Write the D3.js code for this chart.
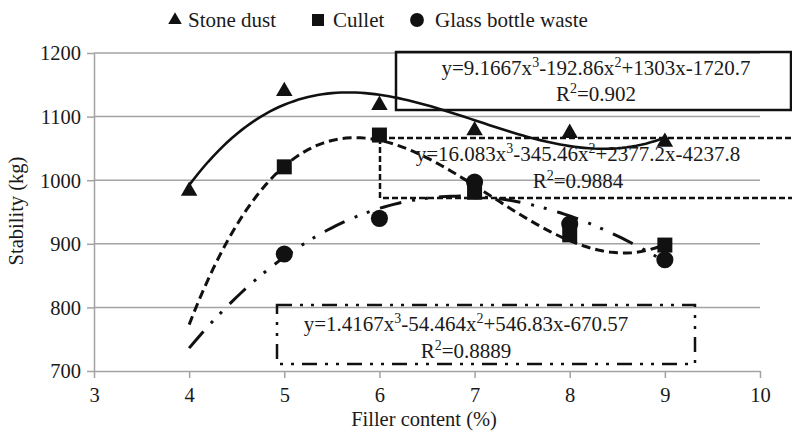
<html>
<script src="https://d3js.org/d3.v7.min.js"></script>
<style>
body {margin:0; background:#fff;}
text {font-family: "Liberation Serif", "Times New Roman", serif; fill:#1a1a1a;}
</style>
<body>
<svg width=792 height=431></svg>
<script>
// values
const fillerContent = [4, 5, 6, 7, 8, 9];
const stoneDust = [983, 1140, 1118, 1078, 1074, 1060];
const culletX = [5, 6, 7, 8, 9];
const cullet = [1021, 1071, 981, 914, 898];
const glassX = [5, 6, 7, 8, 9];
const glassBottle = [884, 940, 997, 931, 875];
const xTicks = [3, 4, 5, 6, 7, 8, 9, 10];
const yTicks = [700, 800, 900, 1000, 1100, 1200];
const seriesNames = ["Stone dust", "Cullet", "Glass bottle waste"];
// printed trendline coefficients (x^3, x^2, x, const) and R^2
const stoneFit = [9.1667, -192.86, 1303, -1720.7];
const culletFit = [16.083, -345.46, 2377.2, -4237.8];
const glassFit = [1.4167, -54.464, 546.83, -670.57];
const rSquared = [0.902, 0.9884, 0.8889];
const fitRange = [4, 9];

const svg = d3.select('svg');
const xs = d3.scaleLinear().domain([3, 10]).range([94, 760]);
const ys = d3.scaleLinear().domain([700, 1200]).range([371, 53]);
const grey = '#a3a3a3';

// gridlines
svg.append('g').selectAll('line').data(yTicks.slice(1)).enter().append('line')
    .attr('x1', xs(3)).attr('x2', xs(10))
    .attr('y1', d => ys(d)).attr('y2', d => ys(d))
    .attr('stroke', grey).attr('stroke-width', 1.5);

// axes
const xAxis = svg.append('g').attr('transform', 'translate(0,' + ys(700) + ')')
    .call(d3.axisBottom(xs).tickValues(xTicks).tickFormat(d3.format('d')).tickSizeOuter(0).tickSizeInner(7).tickPadding(6));
const yAxis = svg.append('g').attr('transform', 'translate(' + xs(3) + ',0)')
    .call(d3.axisLeft(ys).tickValues(yTicks).tickFormat(d3.format('d')).tickSizeOuter(0).tickSizeInner(7).tickPadding(6));
[xAxis, yAxis].forEach(a => {
    a.select('.domain').attr('stroke', grey).attr('stroke-width', 1.5);
    a.selectAll('.tick line').attr('stroke', grey).attr('stroke-width', 1.5);
    a.selectAll('.tick text').style('font-size', '20.5px').attr('fill', '#1a1a1a')
        .style('font-family', '"Liberation Serif", serif');
});
xAxis.selectAll('.tick text').attr('dy', '0.9em');
yAxis.selectAll('.tick text').attr('dy', '0.34em');

// axis titles
svg.append('text').attr('x', 424).attr('y', 426).attr('text-anchor', 'middle')
    .style('font-size', '20.5px').text('Filler content (%)');
svg.append('text').attr('transform', 'translate(23,211) rotate(-90)').attr('text-anchor', 'middle')
    .style('font-size', '20.5px').text('Stability (kg)');

// trendline curves
function poly(c) { return x => c[0]*x*x*x + c[1]*x*x + c[2]*x + c[3]; }
const sampleX = d3.range(fitRange[0], fitRange[1] + 0.001, 0.05);
const line = d3.line().x(d => xs(d[0])).y(d => ys(d[1])).curve(d3.curveLinear);
const fits = [
    {c: stoneFit, dash: null, w: 2.6},
    {c: culletFit, dash: '9,5', w: 3},
    {c: glassFit, dash: '22,11,3,10,3,11', w: 3}
];
fits.forEach(f => {
    const p = poly(f.c);
    svg.append('path').datum(sampleX.map(x => [x, p(x)]))
        .attr('d', line).attr('fill', 'none').attr('stroke', '#111')
        .attr('stroke-width', f.w).attr('stroke-dasharray', f.dash);
});

// markers
const triangle = d3.symbol().type(d3.symbolTriangle);
const square = d3.symbol().type(d3.symbolSquare);
const circle = d3.symbol().type(d3.symbolCircle);
function marks(xv, yv, sym, size) {
    svg.append('g').selectAll('path').data(xv).enter().append('path')
        .attr('transform', (d, i) => 'translate(' + xs(d) + ',' + ys(yv[i]) + ')')
        .attr('d', sym.size(size)()).attr('fill', '#111');
}
marks(fillerContent, stoneDust, triangle, 118);
marks(culletX, cullet, square, 225);
marks(glassX, glassBottle, circle, 230);

// equation boxes
function fmt(v, first) { return (v < 0 ? '-' : (first ? '' : '+')) + Math.abs(v); }
const boxes = [
    {c: stoneFit, r: rSquared[0], x0: 396, x1: 791, y0: 52, y1: 110, dash: null, cx: 596, b1: 75, b2: 101},
    {c: culletFit, r: rSquared[1], x0: 380, x1: 800, y0: 138, y1: 198, dash: '6,3', cx: 578, b1: 161, b2: 188},
    {c: glassFit, r: rSquared[2], x0: 277, x1: 695, y0: 305, y1: 364, dash: '15,8,3,8,3,8', cx: 466, b1: 331, b2: 358}
];
boxes.forEach(b => {
    svg.append('rect').attr('x', b.x0).attr('y', b.y0)
        .attr('width', b.x1 - b.x0).attr('height', b.y1 - b.y0)
        .attr('fill', 'none').attr('stroke', '#111').attr('stroke-width', 2.5)
        .attr('stroke-dasharray', b.dash);
    const t1 = svg.append('text').attr('x', b.cx).attr('y', b.b1).attr('text-anchor', 'middle')
        .style('font-size', '21px');
    t1.append('tspan').text('y=' + fmt(b.c[0], true) + 'x');
    t1.append('tspan').attr('dy', -8).style('font-size', '14px').text('3');
    t1.append('tspan').attr('dy', 8).text(fmt(b.c[1]) + 'x');
    t1.append('tspan').attr('dy', -8).style('font-size', '14px').text('2');
    t1.append('tspan').attr('dy', 8).text(fmt(b.c[2]) + 'x' + fmt(b.c[3]));
    const t2 = svg.append('text').attr('x', b.cx).attr('y', b.b2).attr('text-anchor', 'middle')
        .style('font-size', '21px');
    t2.append('tspan').text('R');
    t2.append('tspan').attr('dy', -8).style('font-size', '14px').text('2');
    t2.append('tspan').attr('dy', 8).text('=' + b.r);
});

// legend
const legendSyms = [[triangle, 80], [square, 144], [circle, 150]];
const legendX = [175, 318, 417];
const legendText = [188, 333, 435];
seriesNames.forEach((n, i) => {
    svg.append('path').attr('transform', 'translate(' + legendX[i] + ',20)')
        .attr('d', legendSyms[i][0].size(legendSyms[i][1])()).attr('fill', '#111');
    svg.append('text').attr('x', legendText[i]).attr('y', 27).style('font-size', '21px').text(n);
});
</script>
</body>
</html>
